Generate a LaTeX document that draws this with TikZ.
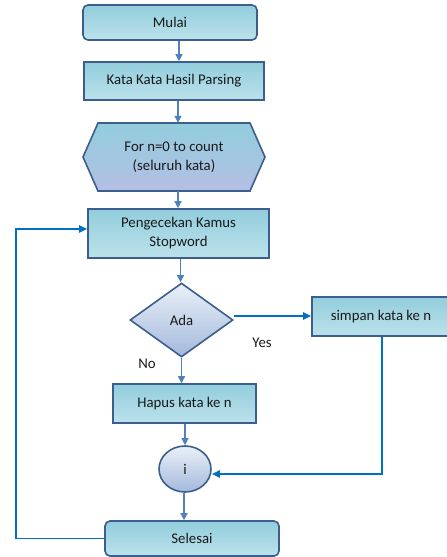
\documentclass[tikz,border=0pt]{standalone}
\usepackage{fontspec}
\setmainfont{Carlito}
\usetikzlibrary{shapes.geometric,arrows.meta}
\definecolor{boxtop}{HTML}{92CDDC}
\definecolor{boxbot}{HTML}{BCE2EB}
\definecolor{hexbot}{HTML}{B4BFE4}
\definecolor{bord}{HTML}{3B5E8C}
\definecolor{arr}{HTML}{4F81BD}
\definecolor{loopc}{HTML}{0070C0}
\definecolor{dtop}{HTML}{EAF0F8}
\definecolor{dbot}{HTML}{A3B9DC}
\definecolor{txt}{HTML}{1A1A1A}
\tikzset{
  boxbase/.style={draw=bord, line width=1.6pt, top color=boxtop, bottom color=boxbot,
    font=\fontsize{14.8}{19}\selectfont, text=txt, align=center, inner sep=0pt},
  proc/.style={boxbase, rectangle},
  term/.style={boxbase, rectangle, rounded corners=5pt},
  flow/.style={draw=arr, line width=1.3pt, -{Triangle[length=7pt,width=7pt]}},
  loopline/.style={draw=loopc, line width=1.8pt, -{Triangle[length=8pt,width=7pt]}},
  lbl/.style={font=\fontsize{14.8}{17}\selectfont, text=txt}
}
\begin{document}
\begin{tikzpicture}[x=1pt,y=-1pt]
\useasboundingbox (0,0) rectangle (447,557);
% column coordinates
\coordinate (c1) at (179,0);
\coordinate (c2) at (178,0);
\coordinate (c3) at (180.5,0);
\coordinate (c4) at (185,0);
\coordinate (c5) at (184,0);
\coordinate (xr) at (382,0);
\coordinate (xl) at (16,0);
\coordinate (ry) at (0,316);
\coordinate (ly) at (0,229);
\coordinate (iy) at (0,474);

\node[term, minimum width=174pt, minimum height=35pt] (mulai) at (170,22.5) {Mulai};
\node[proc, minimum width=180pt, minimum height=38pt] (parse) at (174,81) {Kata Kata Hasil Parsing};
% hexagon
\path[draw=bord, line width=1.6pt, top color=boxtop, bottom color=hexbot]
  (83,157) -- (98,123) -- (250,123) -- (265,157) -- (250,191) -- (98,191) -- cycle;
\node[font=\fontsize{14.8}{19}\selectfont, text=txt, align=center, minimum width=182pt, minimum height=68pt, inner sep=0pt] (for) at (174,157) {\raisebox{-2pt}{\begin{tabular}{@{}c@{}}For n=0 to count\\(seluruh kata)\end{tabular}}};
\node[proc, minimum width=181pt, minimum height=49pt] (cek) at (178.5,233.5) {\raisebox{-4pt}{\begin{tabular}{@{}c@{}}Pengecekan Kamus\\Stopword\end{tabular}}};
\node[diamond, draw=bord, line width=1.6pt, top color=dtop, bottom color=dbot, inner sep=0pt,
  minimum width=103pt, minimum height=74pt, font=\fontsize{14.8}{17}\selectfont, text=txt] (ada) at (181.5,320) {Ada};
\node[proc, minimum width=138pt, minimum height=39pt] (simpan) at (381,316.5) {\raisebox{3pt}{simpan kata ke n}};
\node[proc, minimum width=143pt, minimum height=39pt] (hapus) at (184.5,403.5) {\raisebox{3pt}{Hapus kata ke n}};
\node[ellipse, draw=bord, line width=1.6pt, top color=dtop, bottom color=dbot, inner sep=0pt,
  minimum width=52pt, minimum height=46pt, font=\fontsize{14.8}{17}\selectfont, text=txt] (circ) at (185,469) {i};
\node[term, minimum width=174pt, minimum height=35pt] (selesai) at (192,538.5) {Selesai};

\node[lbl] (yes) at (262,343) {Yes};
\node[lbl] (no) at (147,364) {No};

\draw[flow] (mulai.south -| c1) -- (parse.north -| c1);
\draw[flow] (parse.south -| c2) -- (for.north -| c2);
\draw[flow] (for.south -| c2) -- (cek.north -| c2);
\draw[flow] (cek.south -| c3) -- (ada.north -| c3);
\draw[flow] (ada.south) -- (hapus.north -| ada.south);
\draw[flow] (hapus.south -| c4) -- (circ.north -| c4);
\draw[flow] (circ.south -| c5) -- (selesai.north -| c5);

\draw[loopline] (ada.east |- ry) -- (simpan.west |- ry);
\draw[loopline] (simpan.south -| xr) -- (xr |- iy) -- (circ.east |- iy);
\draw[loopline] (selesai.west) -- (xl |- selesai.west) -- (xl |- ly) -- (cek.west |- ly);
\end{tikzpicture}
\end{document}
